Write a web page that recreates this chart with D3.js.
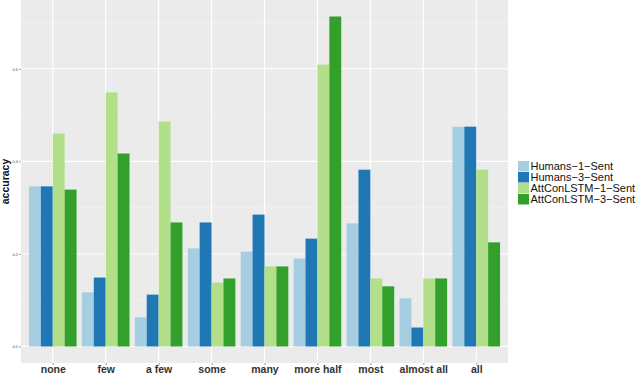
<!DOCTYPE html>
<html>
<head>
<meta charset="utf-8">
<script src="https://cdn.jsdelivr.net/npm/d3@7"></script>
<style>
  body { margin: 0; background: #fff; }
  svg { display: block; font-family: "Liberation Sans", Arial, sans-serif; }
</style>
</head>
<body>
<svg width="640" height="376"></svg>
<script>
// quantifiers on the x axis
var categories = ["none", "few", "a few", "some", "many", "more half", "most", "almost all", "all"];
var seriesNames = ["Humans\u22121\u2212Sent", "Humans\u22123\u2212Sent", "AttConLSTM\u22121\u2212Sent", "AttConLSTM\u22123\u2212Sent"];
var colors = ["#a6cee3", "#1f78b4", "#b2df8a", "#33a02c"];

var humans1 = [0.346, 0.117, 0.063, 0.212, 0.205, 0.190, 0.266, 0.104, 0.475];
var humans3 = [0.346, 0.149, 0.112, 0.268, 0.285, 0.233, 0.382, 0.041, 0.475];
var att1    = [0.460, 0.549, 0.486, 0.138, 0.173, 0.609, 0.147, 0.147, 0.382];
var att3    = [0.339, 0.417, 0.268, 0.147, 0.173, 0.713, 0.130, 0.147, 0.225];
var yTicks = [0, 0.2, 0.4, 0.6];

var series = [humans1, humans3, att1, att3];

var svg = d3.select("svg");
// panel box (window.top is reserved, so use pTop etc.)
var pLeft = 21, pRight = 508, pTop = 0, pBottom = 363;

var ymax = d3.max(series, function(s) { return d3.max(s); });
var pad = ymax * 0.05;
var y = d3.scaleLinear().domain([-pad, ymax + pad]).range([pBottom, pTop]);

// ggplot style discrete expansion (0.6 of a band each side)
var step = (pRight - pLeft) / (categories.length - 1 + 1.2);
var x = d3.scalePoint().domain(categories).range([pLeft + 0.6 * step, pRight - 0.6 * step]);
var inner = d3.scaleBand().domain(d3.range(4)).range([-0.45 * step, 0.45 * step]);

var g = svg.append("g");
g.append("rect").attr("x", pLeft).attr("y", pTop).attr("width", pRight - pLeft).attr("height", pBottom - pTop).attr("fill", "#ebebeb");

// minor grid
var minor = [0.1, 0.3, 0.5, 0.7];
g.selectAll(".minor").data(minor).enter().append("line")
  .attr("x1", pLeft).attr("x2", pRight).attr("y1", function(d) { return y(d); }).attr("y2", function(d) { return y(d); })
  .attr("stroke", "#f5f5f5").attr("stroke-width", 0.6);
g.selectAll(".major").data(yTicks).enter().append("line")
  .attr("x1", pLeft).attr("x2", pRight).attr("y1", function(d) { return y(d); }).attr("y2", function(d) { return y(d); })
  .attr("stroke", "#fff").attr("stroke-width", 1.1);
g.selectAll(".vgrid").data(categories).enter().append("line")
  .attr("x1", function(d) { return x(d); }).attr("x2", function(d) { return x(d); })
  .attr("y1", pTop).attr("y2", pBottom).attr("stroke", "#fff").attr("stroke-width", 1.1);

// bars
series.forEach(function(s, i) {
  g.selectAll(".b" + i).data(s).enter().append("rect")
    .attr("x", function(d, j) { return x(categories[j]) + inner(i); })
    .attr("width", inner.bandwidth())
    .attr("y", function(d) { return y(d); })
    .attr("height", function(d) { return y(0) - y(d); })
    .attr("fill", colors[i]);
});

// axes
var ya = svg.append("g").attr("transform", "translate(" + pLeft + ",0)")
  .call(d3.axisLeft(y).tickValues(yTicks).tickSize(2).tickPadding(1).tickFormat(d3.format(".1f")));
ya.select(".domain").remove();
ya.selectAll("line").attr("stroke", "#333").attr("stroke-width", 0.5);
ya.selectAll("text").attr("font-size", 4).attr("fill", "#555");

var xa = svg.append("g").attr("transform", "translate(0," + pBottom + ")")
  .call(d3.axisBottom(x).tickSize(2).tickPadding(1));
xa.select(".domain").remove();
xa.selectAll("line").attr("stroke", "#333").attr("stroke-width", 0.5);
xa.selectAll("text").attr("font-size", 10.5).attr("font-weight", "bold").attr("fill", "#333");

svg.append("text").attr("transform", "translate(9," + ((pTop + pBottom) / 2) + ") rotate(-90)")
  .attr("text-anchor", "middle").attr("font-size", 10.5).attr("font-weight", "bold").attr("fill", "#111")
  .text("accuracy");

// legend
var lg = svg.append("g").attr("transform", "translate(518,161)");
seriesNames.forEach(function(n, i) {
  lg.append("rect").attr("x", 0).attr("y", i * 11).attr("width", 11).attr("height", 10.5).attr("fill", colors[i]);
  lg.append("text").attr("x", 12.5).attr("y", i * 11 + 9).attr("font-size", 11).attr("fill", "#111").text(n);
});
</script>
</body>
</html>
